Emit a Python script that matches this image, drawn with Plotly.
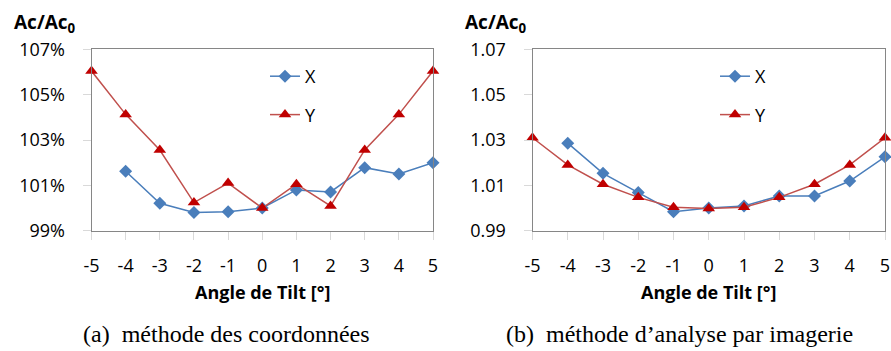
import plotly.graph_objects as go

# ---------------- data ----------------
angles = [-5, -4, -3, -2, -1, 0, 1, 2, 3, 4, 5]
angle_labels = ["-5", "-4", "-3", "-2", "-1", "0", "1", "2", "3", "4", "5"]
a_x = [None, 1.0162, 1.0021, 0.9980, 0.9984, 1.0000, 1.0080, 1.0071, 1.0178, 1.0150, 1.0200]
a_y = [1.0604, 1.0413, 1.0256, 1.0024, 1.0110, 1.0000, 1.0105, 1.0009, 1.0256, 1.0413, 1.0604]
b_x = [None, 1.0286, 1.0153, 1.0068, 0.9984, 1.0000, 1.0009, 1.0053, 1.0053, 1.0119, 1.0226]
b_y = [1.0310, 1.0190, 1.0105, 1.0047, 1.0003, 0.9998, 1.0003, 1.0047, 1.0105, 1.0190, 1.0310]
series_names = ["X", "Y"]
y_range = [0.99, 1.07]
x_range = [-5, 5]
x_title = "Angle de Tilt [°]"
y_title = "Ac/Ac<sub>0</sub>"
captions = ["(a)  méthode des coordonnées", "(b)  méthode d’analyse par imagerie"]

# ---------------- style ----------------
W, H = 891, 351
BLUE = "#4A7EBB"
RED_LINE = "#C0504D"
RED_MK = "#C00000"
AXIS = "#868686"
TICK = "#D9D9D9"
FONT = "Open Sans"

def px_x(p):
    return p / W

def px_y(p):
    return 1 - p / H

dom_a = [px_x(91.5), px_x(433)]
dom_b = [px_x(532.5), px_x(885)]
dom_y = [px_y(230.7), px_y(49.3)]

fig = go.Figure()

def add_series(xa, ya, legend, ys):
    for name, vals, col_l, col_m, sym, grp in [
        (series_names[0], ys[0], BLUE, BLUE, "diamond", "g1"),
        (series_names[1], ys[1], RED_LINE, RED_MK, "triangle-up", "g2"),
    ]:
        fig.add_trace(go.Scatter(
            x=angles, y=vals, name=name, mode="lines+markers",
            xaxis=xa, yaxis=ya, legend=legend, legendgroup=legend + grp,
            line=dict(color=col_l, width=1.5),
            marker=dict(symbol=sym, size=10 if sym == "diamond" else 11, color=col_m),
            cliponaxis=False, connectgaps=False,
        ))

add_series("x", "y", "legend", [a_x, a_y])
add_series("x2", "y2", "legend2", [b_x, b_y])

tickfont = dict(family=FONT, size=18, color="black")

def main_x(domain, anchor):
    return dict(domain=domain, anchor=anchor, range=x_range,
                tickmode="array", tickvals=angles, ticktext=angle_labels,
                showgrid=False, zeroline=False, showline=True, linecolor=AXIS,
                linewidth=1, mirror=True, ticks="outside", ticklen=8, tickcolor=TICK,
                tickwidth=1, tickfont=tickfont, ticklabelstandoff=11, automargin=False)

def main_y(domain, anchor, fmt):
    return dict(domain=domain, anchor=anchor, range=y_range, dtick=0.02, tick0=0.99,
                showgrid=False, zeroline=False, showline=True, linecolor=AXIS,
                linewidth=1, mirror=True, ticks="outside", ticklen=8, tickcolor=TICK,
                tickwidth=1, tickfont=tickfont, tickformat=fmt, ticklabelstandoff=14,
                automargin=False)

def over_x(over, anchor):
    return dict(overlaying=over, anchor=anchor, range=x_range, dtick=1, tick0=-5,
                showgrid=False, zeroline=False, showline=False, ticks="inside",
                ticklen=7, tickcolor=TICK, tickwidth=1, showticklabels=False,
                automargin=False)

def over_y(over, anchor):
    return dict(overlaying=over, anchor=anchor, range=y_range, dtick=0.01, tick0=0.99,
                showgrid=False, zeroline=False, showline=False, ticks="inside",
                ticklen=7, tickcolor=TICK, tickwidth=1, showticklabels=False,
                automargin=False)

legend_common = dict(font=dict(family=FONT, size=18, color="black"),
                     bgcolor="rgba(0,0,0,0)", tracegroupgap=12,
                     xanchor="left", yanchor="top", itemwidth=30)

fig.update_layout(
    template="none",
    width=W, height=H,
    margin=dict(l=0, r=0, t=0, b=0, autoexpand=False),
    paper_bgcolor="white", plot_bgcolor="white",
    xaxis=main_x(dom_a, "y"),
    yaxis=main_y(dom_y, "x", ".0%"),
    xaxis2=main_x(dom_b, "y2"),
    yaxis2=main_y(dom_y, "x2", ".2f"),
    xaxis3=over_x("x", "y"),
    yaxis3=over_y("y", "x"),
    xaxis4=over_x("x2", "y2"),
    yaxis4=over_y("y2", "x2"),
    legend=dict(x=px_x(265), y=px_y(58), **legend_common),
    legend2=dict(x=px_x(715), y=px_y(58), **legend_common),
    showlegend=True,
)

ann = []
for dom, cap, capx in [(dom_a, captions[0], 226.5), (dom_b, captions[1], 679)]:
    cx = (dom[0] + dom[1]) / 2
    ann.append(dict(x=cx, y=px_y(291.5), xref="paper", yref="paper", text=f"<b>{x_title}</b>",
                    showarrow=False, xanchor="center", yanchor="middle",
                    font=dict(family=FONT, size=18, color="black")))
    ann.append(dict(x=px_x(capx), y=px_y(334), xref="paper", yref="paper", text=cap,
                    showarrow=False, xanchor="center", yanchor="middle",
                    font=dict(family="Liberation Serif", size=24, color="black")))
for tx in (12, 463):
    ann.append(dict(x=px_x(tx), y=px_y(23), xref="paper", yref="paper", text=f"<b>{y_title}</b>",
                    showarrow=False, xanchor="left", yanchor="middle",
                    font=dict(family=FONT, size=19, color="black")))
fig.update_layout(annotations=ann)

fig.write_html(
    "out.html",
    config={"displayModeBar": False},
    post_script="document.body.style.margin='0';document.body.style.overflow='hidden';",
)
